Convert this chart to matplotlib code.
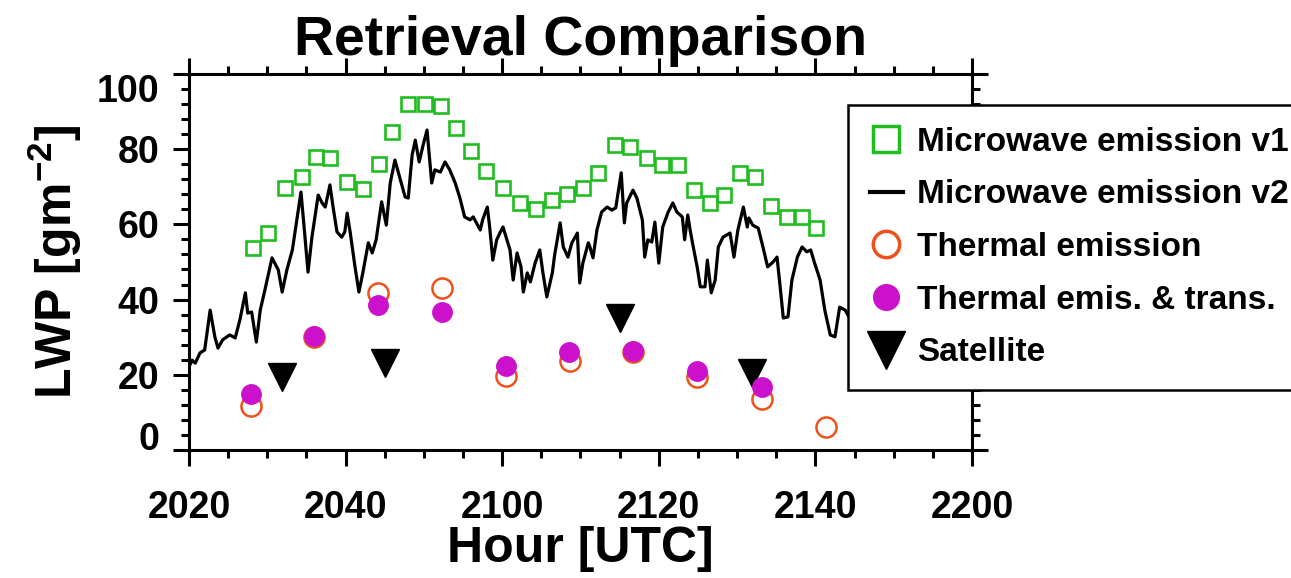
import matplotlib
matplotlib.use("Agg")
import matplotlib.pyplot as plt
from matplotlib.ticker import MultipleLocator
from matplotlib import font_manager

plt.rcParams['font.family'] = ['Liberation Sans', 'DejaVu Sans']
plt.rcParams['font.weight'] = 'bold'
plt.rcParams['mathtext.default'] = 'regular'

# axis labels in the reference use a narrow bold face
names = {f.name for f in font_manager.fontManager.ttflist}
if 'Liberation Sans Narrow' in names:
    label_font, label_size = 'Liberation Sans Narrow', 43
else:
    label_font, label_size = 'Liberation Sans', 36

# time in minutes after 20:00 UTC
tick_pos = [20, 40, 60, 80, 100, 120]
tick_labels = ['2020', '2040', '2100', '2120', '2140', '2200']

# microwave emission v1 (squares)
mw1_t = [28.2, 30.1, 32.3, 34.4, 36.2, 38.0, 40.2, 42.2, 44.3, 45.9, 48.0, 50.1, 52.2,
         54.1, 56.0, 57.9, 60.1, 62.3, 64.3, 66.4, 68.3, 70.3, 72.2, 74.4, 76.3, 78.5,
         80.4, 82.5, 84.5, 86.5, 88.3, 90.4, 92.3, 94.3, 96.4, 98.3, 100.1]
mw1_v = [53.7, 57.7, 69.7, 72.6, 77.9, 77.7, 71.3, 69.4, 76.1, 84.6, 92.0, 92.0, 91.5,
         85.6, 79.5, 74.2, 69.7, 65.7, 64.1, 66.5, 68.1, 69.7, 73.7, 81.1, 80.6, 77.7,
         75.8, 75.8, 69.1, 65.7, 67.8, 73.7, 72.6, 64.9, 62.0, 62.0, 59.0]

# microwave emission v2 (line)
mw2_t = [20.0, 20.4, 20.8, 21.4, 22.0, 22.7, 23.3, 23.7, 24.3, 25.2, 25.9, 26.5, 27.2,
         27.5, 28.0, 28.6, 29.1, 29.7, 30.6, 31.4, 31.9, 32.5, 33.2, 33.8, 34.3, 34.7,
         35.2, 35.7, 36.5, 37.0, 37.4, 38.0, 38.4, 38.9, 39.5, 39.9, 40.2, 40.6, 41.2,
         41.7, 42.2, 42.9, 43.4, 43.9, 44.6, 45.2, 45.7, 46.3, 46.9, 47.6, 48.0, 48.5,
         48.9, 49.4, 49.9, 50.4, 51.0, 51.4, 52.1, 52.7, 53.3, 54.0, 54.6, 55.2, 55.9,
         56.3, 57.2, 57.5, 58.1, 58.4, 58.8, 59.3, 59.7, 60.1, 60.6, 61.0, 61.4, 61.9,
         62.4, 62.7, 63.2, 63.6, 64.2, 64.8, 65.2, 65.7, 66.4, 66.7, 67.4, 67.8, 68.4,
         68.9, 69.6, 69.9, 70.3, 71.0, 71.2, 71.6, 72.1, 72.7, 73.4, 74.0, 74.5, 75.2,
         75.6, 75.9, 76.7, 77.2, 77.9, 78.2, 78.6, 79.1, 79.5, 80.0, 80.5, 81.2, 81.8,
         82.3, 83.0, 83.3, 83.7, 84.0, 84.4, 84.9, 85.3, 85.9, 86.2, 86.7, 87.2, 87.6,
         88.2, 89.1, 89.6, 90.1, 90.8, 91.3, 91.5, 92.0, 92.7, 93.3, 93.9, 94.6, 95.1,
         95.5, 95.9, 96.5, 97.0, 97.7, 98.3, 98.9, 99.4, 99.9, 100.6, 101.2, 101.9,
         102.5, 103.1, 103.8, 104.3]
mw2_v = [22.1, 23.9, 23.1, 25.8, 26.6, 37.2, 30.1, 27.1, 29.3, 30.6, 29.8, 34.6, 41.8,
         36.4, 36.7, 28.7, 37.2, 42.6, 51.1, 47.9, 42.0, 47.9, 53.2, 61.7, 68.6, 59.3,
         47.3, 56.6, 67.8, 65.7, 64.6, 70.5, 64.6, 58.0, 56.6, 58.0, 63.0, 57.7, 48.7,
         42.0, 47.1, 55.1, 52.4, 55.9, 66.0, 59.8, 71.0, 77.1, 72.6, 67.3, 67.0, 78.5,
         82.4, 76.6, 81.1, 85.1, 71.0, 74.5, 73.9, 76.6, 74.5, 71.0, 67.0, 62.0, 61.2,
         62.0, 58.5, 61.2, 64.6, 59.3, 50.5, 55.9, 57.7, 59.3, 55.9, 53.2, 45.2, 52.4,
         48.7, 42.0, 47.1, 44.7, 49.7, 53.2, 47.1, 40.7, 47.1, 51.9, 60.4, 54.0, 51.3,
         55.1, 57.7, 44.4, 49.7, 55.1, 54.0, 51.1, 58.5, 63.3, 64.6, 63.8, 64.4, 73.7,
         60.4, 65.7, 69.1, 67.0, 61.2, 51.3, 55.9, 55.3, 60.6, 49.7, 59.3, 63.3, 65.7,
         63.3, 62.0, 55.9, 62.5, 58.5, 54.0, 48.7, 43.4, 43.4, 50.5, 41.8, 45.2, 54.0,
         56.6, 57.7, 51.3, 58.5, 64.6, 59.3, 61.7, 59.8, 59.0, 54.0, 48.7, 50.0, 51.3,
         43.4, 35.1, 35.4, 45.2, 51.3, 54.0, 52.7, 53.2, 49.7, 45.2, 37.2, 30.6,
         30.1, 38.0, 37.2, 35.4]

# thermal emission (open circles)
te_t = [27.9, 36.0, 44.1, 52.3, 60.5, 68.7, 76.7, 84.9, 93.2, 101.4]
te_v = [11.7, 30.1, 41.8, 43.1, 19.7, 23.7, 26.1, 19.4, 13.6, 6.1]

# thermal emission & transmission (filled dots)
tet_t = [27.9, 36.0, 44.1, 52.3, 60.5, 68.5, 76.7, 84.9, 93.2]
tet_v = [14.9, 30.3, 38.6, 36.7, 22.3, 26.1, 26.3, 21.0, 16.8]

# satellite (triangles)
sat_t = [31.9, 45.0, 75.0, 91.9]
sat_v = [19.4, 23.1, 35.1, 20.5]

green = '#1fbd1f'
orange = '#f0501a'
magenta = '#cc11cc'

fig = plt.figure(figsize=(12.91, 5.78), dpi=100)
ax = fig.add_axes([0.1464, 0.2215, 0.6065, 0.6505])

ax.plot(mw2_t, mw2_v, color='black', lw=2.3, zorder=3, label='Microwave emission v2')
ax.plot(mw1_t, mw1_v, ls='none', marker='s', ms=9.5, mfc='none', mec=green, mew=1.9,
        zorder=4, label='Microwave emission v1')
ax.plot(te_t, te_v, ls='none', marker='o', ms=14.5, mfc='none', mec=orange, mew=1.8,
        zorder=5, label='Thermal emission')
ax.plot(sat_t, sat_v, ls='none', marker='v', ms=20, color='black', zorder=6,
        label='Satellite')
ax.plot(tet_t, tet_v, ls='none', marker='o', ms=14, color=magenta, mec=magenta,
        zorder=7, label='Thermal emis. & trans.')

ax.set_xlim(20, 120)
ax.set_ylim(0, 100)
ax.set_xticks(tick_pos)
ax.set_xticklabels(tick_labels)
ax.set_yticks([0, 20, 40, 60, 80, 100])
ax.xaxis.set_minor_locator(MultipleLocator(5))
ax.yaxis.set_minor_locator(MultipleLocator(4))
ax.tick_params(which='both', direction='out', top=True, right=True, width=2.2)
ax.tick_params(which='major', length=11.5)
ax.tick_params(which='minor', length=6)
ax.tick_params(axis='x', which='major', labelsize=27, pad=17)
ax.tick_params(axis='y', which='major', labelsize=27, pad=10)
for s in ax.spines.values():
    s.set_linewidth(2.2)

# end labels sit inside the axis range, as in the reference
yt = ax.yaxis.get_major_ticks()
yt[0].label1.set_va('baseline')
yt[-1].label1.set_va('top')

ax.set_title('Retrieval Comparison', fontsize=40, fontweight='bold', pad=14)
ax.set_xlabel('Hour [UTC]', fontsize=label_size, fontweight='bold',
              family=label_font, labelpad=0)
ax.set_ylabel('LWP [gm$^{-2}$]', fontsize=label_size, fontweight='bold',
              family=label_font, labelpad=9)

h, l = ax.get_legend_handles_labels()
order = [1, 0, 2, 4, 3]
leg = ax.legend([h[i] for i in order], [l[i] for i in order],
                loc='upper left', bbox_to_anchor=(848 / 1291, 1 - 105 / 578),
                bbox_transform=fig.transFigure, fontsize=24, frameon=True,
                fancybox=False, framealpha=1, edgecolor='black', borderpad=0.65,
                labelspacing=0.65, handlelength=1.0, handletextpad=0.42,
                borderaxespad=0)
leg.get_frame().set_linewidth(1.8)
hs = leg.legend_handles
hs[0].set_markersize(18.5)
hs[0].set_markeredgewidth(2.5)
hs[1].set_linewidth(3)
hs[2].set_markersize(19)
hs[2].set_markeredgewidth(2.5)
hs[3].set_markersize(18.5)
hs[4].set_markersize(27)

fig.savefig('out.png', dpi=100)
